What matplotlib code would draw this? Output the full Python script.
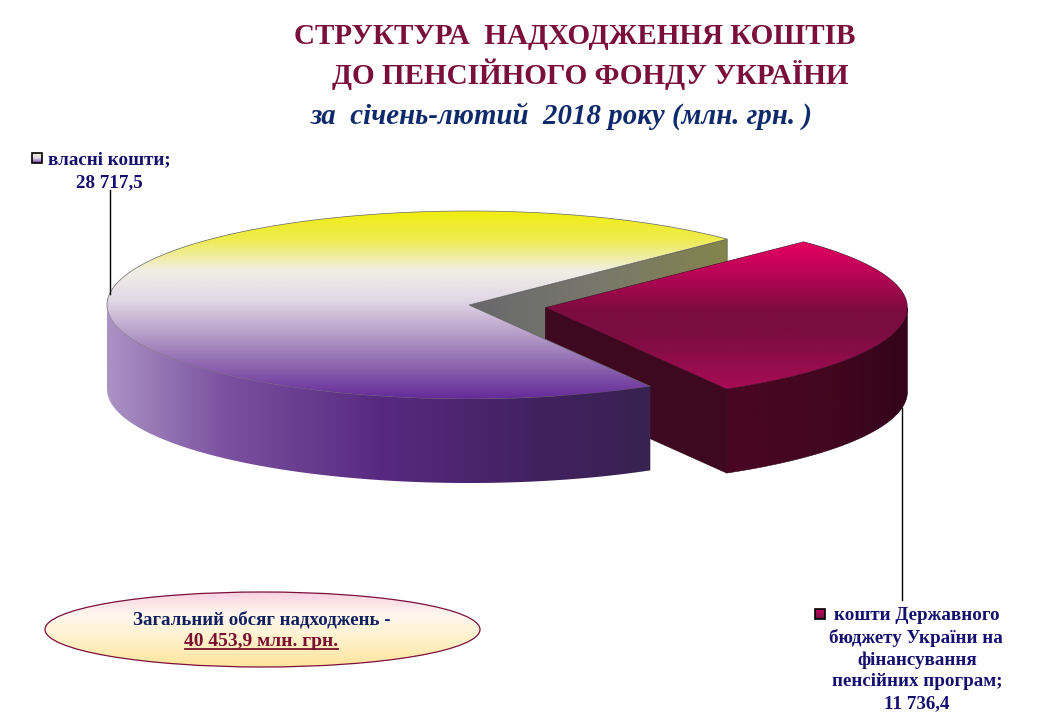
import numpy as np
import matplotlib
matplotlib.use('Agg')
import matplotlib.pyplot as plt
from matplotlib.colors import LinearSegmentedColormap
from matplotlib.patches import Ellipse, Polygon, Rectangle

# данi
categories = ['власні кошти', 'кошти Державного бюджету України на фінансування пенсійних програм']
values = [28717.5, 11736.4]
total_label = '40 453,9 млн. грн.'
title_lines = ['СТРУКТУРА  НАДХОДЖЕННЯ КОШТІВ', 'ДО ПЕНСІЙНОГО ФОНДУ УКРАЇНИ']
subtitle = 'за  січень-лютий  2018 року (млн. грн. )'
own_label = ['власні кошти;', '28 717,5']
budget_label = ['кошти Державного', 'бюджету України на', 'фінансування', 'пенсійних програм;', '11 736,4']

# геометрія псевдо-3D круга (у пікселях)
CX, CY = 469, 305
RX, RY = 362, 94
DEPTH = 84
START = 44.5
EXPLODE = 0.213

NAVY = '#15106e'
WINE = '#7a0f3c'

plt.rcParams['font.family'] = ['Liberation Serif', 'DejaVu Serif']

fig = plt.figure(figsize=(10.4, 7.2), dpi=100, facecolor='white')
ax = fig.add_axes([0, 0, 1, 1])


def arc(cx, cy, t0, t1, n=200):
    t = np.radians(np.linspace(t0, t1, n))
    return np.column_stack([cx + RX * np.cos(t), cy - RY * np.sin(t)])


def gradient(points, stops, extent, horizontal=False, edge=None, lw=0.6, zorder=1):
    cmap = LinearSegmentedColormap.from_list('g', stops)
    grad = np.linspace(0, 1, 256)
    grad = grad.reshape(1, -1) if horizontal else grad.reshape(-1, 1)
    patch = Polygon(points, closed=True, facecolor='none', edgecolor=edge or 'none', lw=lw, zorder=zorder + 0.1)
    ax.add_patch(patch)
    im = ax.imshow(grad, cmap=cmap, extent=extent, aspect='auto', origin='upper', interpolation='bilinear', zorder=zorder)
    im.set_clip_path(patch)


sweep_red = 360 * values[1] / sum(values)
end_red = START - sweep_red
mid_red = np.radians((START + end_red) / 2)
rx0 = CX + EXPLODE * RX * np.cos(mid_red)
ry0 = CY - EXPLODE * RY * np.sin(mid_red)

big_top = np.vstack([[[CX, CY]], arc(CX, CY, START, end_red + 360)])
red_top = np.vstack([[[rx0, ry0]], arc(rx0, ry0, end_red, START)])

y_stops = [(0, '#f0ee10'), (0.15, '#eeec50'), (0.32, '#f0efe6'), (0.47, '#e2d8e6'),
           (0.68, '#b096c4'), (1, '#642a98')]

# внутрішня грань (жовто-сіра)
p_end = arc(CX, CY, START, START, 1)[0]
gradient([[CX, CY], p_end, p_end + [0, DEPTH], [CX, CY + DEPTH]],
         [(0, '#68686c'), (0.5, '#78786c'), (1, '#84844c')],
         (CX, p_end[0], CY + DEPTH, CY - RY), horizontal=True, edge='#444444', lw=0.4, zorder=1)

# бокові грані червоного сектора (за верхом великого сектора)
red_end = arc(rx0, ry0, end_red, end_red, 1)[0]
ax.add_patch(Polygon([[rx0, ry0], red_end, red_end + [0, DEPTH], [rx0, ry0 + DEPTH]],
                     closed=True, fc='#3e0820', ec='#2a0415', lw=0.4, zorder=1.5))
red_rim = arc(rx0, ry0, end_red, 0)
gradient(np.vstack([red_rim, red_rim[::-1] + [0, DEPTH]]),
         [(0, '#4a0625'), (0.6, '#42061f'), (1, '#33041c')],
         (red_end[0], rx0 + RX, ry0 + RY + DEPTH, ry0), horizontal=True, edge='#2a0415', lw=0.4, zorder=1.6)

# верх великого сектора
gradient(big_top, y_stops, (CX - RX, CX + RX, CY + RY, CY - RY), edge='#666666', lw=0.5, zorder=2)

# верх червоного сектора
gradient(red_top,
         [(0, '#e6005f'), (0.18, '#c2045a'), (0.47, '#7c0c3e'), (0.62, '#7a0c40'), (1, '#a80c54')],
         (rx0 - RX, rx0 + RX, red_end[1], ry0 - 66), edge='#3a0a20', lw=0.4, zorder=4)

# передня бокова грань великого сектора
big_rim = arc(CX, CY, 180, end_red + 360)
gradient(np.vstack([big_rim, big_rim[::-1] + [0, DEPTH]]),
         [(0, '#ab92c4'), (0.22, '#7a509f'), (0.5, '#572a80'), (0.8, '#42205f'), (1, '#372350')],
         (CX - RX, big_rim[-1, 0], CY + RY + DEPTH, CY), horizontal=True, zorder=5)

# виноски
ax.plot([110, 110], [190, 294], color='black', lw=1, zorder=6)
ax.plot([902, 902], [408, 600], color='black', lw=1, zorder=6)

# заголовки
ax.text(574.5, 36, title_lines[0], color=WINE, fontsize=21, fontweight='bold', ha='center', va='center')
ax.text(590.5, 74, title_lines[1], color=WINE, fontsize=21, fontweight='bold', ha='center', va='center')
ax.text(562, 116, subtitle, color='#0f2a6b', fontsize=20.8, fontweight='bold', fontstyle='italic', ha='center', va='center')


def key(x, y, stops):
    gradient([[x, y], [x + 10, y], [x + 10, y + 10], [x, y + 10]], stops, (x, x + 10, y + 10, y), zorder=7)
    ax.add_patch(Rectangle((x, y), 10, 10, fc='none', ec='black', lw=1.2, zorder=8))


# підписи
key(32, 153, [(0, '#f4f2d0'), (0.5, '#e0d8e6'), (1, '#6a3a98')])
ax.text(109, 160, own_label[0], color=NAVY, fontsize=13.7, fontweight='bold', ha='center', va='center')
ax.text(109, 183, own_label[1], color=NAVY, fontsize=13.7, fontweight='bold', ha='center', va='center')

key(815, 609, [(0, '#c80860'), (1, '#701040')])
for line, lx, ly in zip(budget_label, [917, 916, 917, 917, 916.5], [615, 638, 660, 681, 704]):
    ax.text(lx, ly, line, color=NAVY, fontsize=13.7, fontweight='bold', ha='center', va='center')

# овал із загальним обсягом
oval = Ellipse((262.5, 629.5), 435, 75, fc='none', ec=WINE, lw=0.9, zorder=2.1)
ax.add_patch(oval)
oval_cmap = LinearSegmentedColormap.from_list('o', [(0, '#fad2e2'), (0.3, '#fff6ee'), (0.6, '#fff2cf'), (1, '#ffe49c')])
im = ax.imshow(np.linspace(0, 1, 256).reshape(-1, 1), cmap=oval_cmap, extent=(45, 480, 667, 592),
               aspect='auto', origin='upper', zorder=2)
im.set_clip_path(oval)
ax.text(262, 620, 'Загальний обсяг надходжень -', color='#10205f', fontsize=13.6, fontweight='bold',
        ha='center', va='center', zorder=3)
ax.text(261.5, 641, total_label, color='#7a0f2f', fontsize=14, fontweight='bold', ha='center', va='center', zorder=3)
ax.plot([185, 338], [649, 649], color='#7a0f2f', lw=1.3, zorder=3)

ax.set_xlim(0, 1040)
ax.set_ylim(720, 0)
ax.axis('off')

fig.savefig('out.png', dpi=100)
